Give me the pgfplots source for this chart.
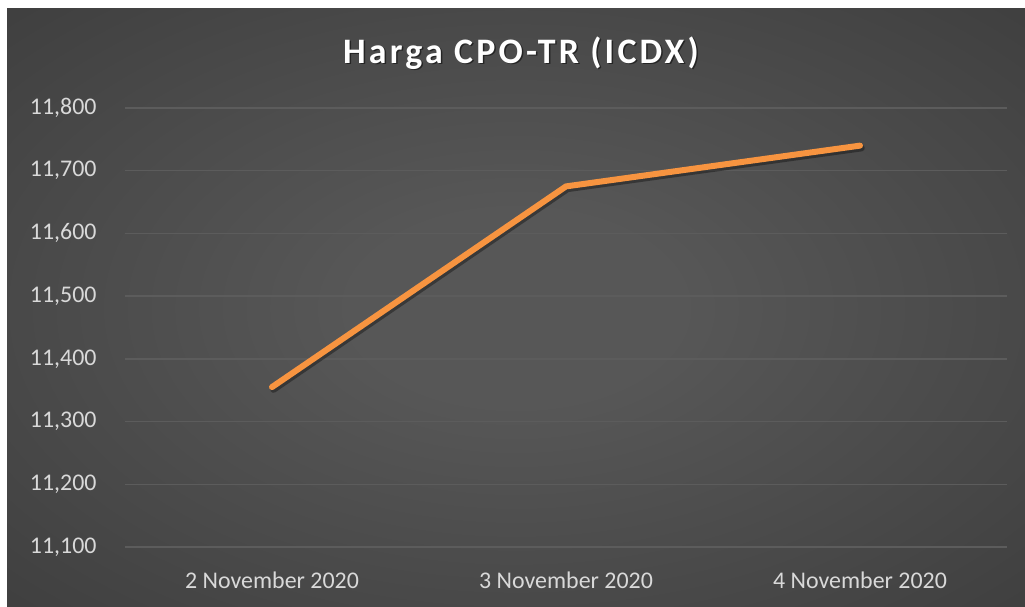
\documentclass[border=0pt]{standalone}
\usepackage{pgfplots}
\pgfplotsset{compat=1.18}
\usepackage{fontspec}
\setmainfont{Carlito}
\newfontfamily\titlefont[LetterSpace=9]{Carlito}
\definecolor{bgin}{HTML}{575757}
\definecolor{bgmid}{HTML}{333333}
\definecolor{bgout}{HTML}{222222}
\definecolor{gridc}{HTML}{5C5C5C}
\definecolor{tickc}{HTML}{D9D9D9}
\definecolor{lineor}{RGB}{247,148,64}
\pgfdeclareradialshading{bg}{\pgfpoint{0bp}{0bp}}{color(0bp)=(bgin);color(8bp)=(bgin);color(50bp)=(bgmid);color(71bp)=(bgout)}
\begin{document}
\begin{tikzpicture}
\useasboundingbox (0,0) rectangle (1025bp,607bp);
\fill[white] (0,0) rectangle (1025bp,607bp);
\shade[shading=bg] (7bp,0) rectangle (1025bp,598bp);
\node[anchor=base, text=black, opacity=0.5, font=\titlefont\bfseries\fontsize{36}{40}\selectfont] at (522.5bp,542bp) {Harga CPO-TR (ICDX)};
\node[anchor=base, text=white, font=\titlefont\bfseries\fontsize{36}{40}\selectfont] at (521bp,543.5bp) {Harga CPO-TR (ICDX)};
\begin{axis}[
  at={(125bp,60bp)}, anchor=south west,
  width=882bp, height=439bp, scale only axis,
  xmin=-0.5, xmax=2.5, ymin=11100, ymax=11800,
  xtick={0,1,2},
  xticklabels={2 November 2020, 3 November 2020, 4 November 2020},
  ytick={11100,11200,11300,11400,11500,11600,11700,11800},
  scaled y ticks=false,
  axis line style={draw=none},
  tick style={draw=none},
  ymajorgrids, grid style={gridc, line width=1.3bp},
  ticklabel style={text=tickc, font=\fontsize{24}{28}\selectfont},
  /pgf/number format/.cd, 1000 sep={,}, fixed, assume math mode=true,
  /pgfplots/.cd,
  yticklabel style={anchor=east, xshift=-25bp},
  xticklabel style={anchor=base, yshift=-41bp},
]
\addplot[black, opacity=0.35, line width=6.5bp, line cap=round, line join=round, transform canvas={xshift=1.5bp, yshift=-2.5bp}] coordinates {(0,11355) (1,11675) (2,11740)};
\addplot[lineor, line width=6bp, line cap=round, line join=round] coordinates {(0,11355) (1,11675) (2,11740)};
\end{axis}
\end{tikzpicture}
\end{document}
